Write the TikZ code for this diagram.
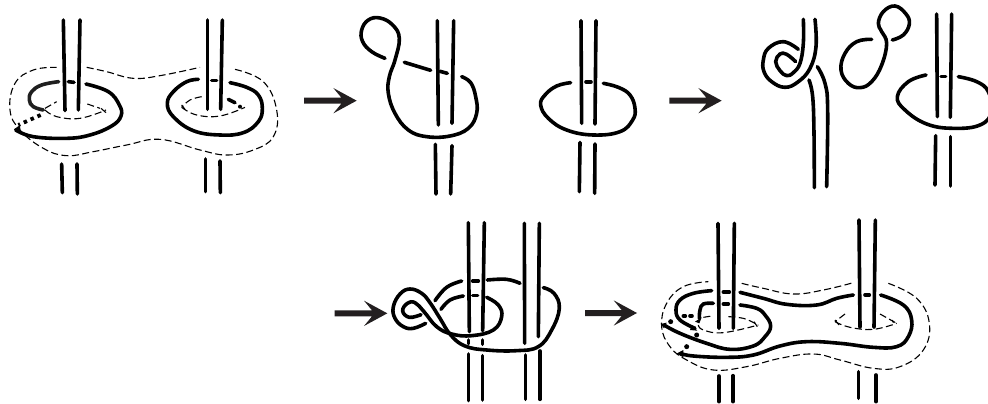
\documentclass[tikz,border=0pt]{standalone}
\definecolor{arrowdark}{HTML}{231F20}
\tikzset{
  strand/.style={draw=black,line width=3.6pt,line cap=round,line join=round},
  softstrand/.style={draw=black!88,line width=3.6pt,line cap=round},
  guide/.style={draw=black,line width=1.1pt,dash pattern=on 7pt off 3.5pt},
  tick/.style={draw=black,line width=1.1pt},
  dots/.style={draw=black,line width=3.8pt,dash pattern=on 3.5pt off 4pt},
  zoomed/.style={x=0.33333pt,y=-0.33333pt},
}
\newcommand{\fatarrow}[3]{% x start, x tip, y in zoom units
  \fill[arrowdark] (#1,#3-9) -- (#2-46,#3-9) -- (#2-70,#3-38) -- (#2,#3) -- (#2-70,#3+38) -- (#2-46,#3+9) -- (#1,#3+9) -- cycle;}
\begin{document}
\begin{tikzpicture}[x=1pt,y=-1pt]
\useasboundingbox (0,0) rectangle (988,404);
\fill[white] (0,0) rectangle (988,404);

% ---------- panel 1
\begin{scope}[shift={(0pt,-10pt)},zoomed]
\foreach \a/\b/\c/\d in {190/30/195/302, 240/30/235/300, 185/462/187/548, 231/462/232/552, 622/30/622/298, 667/30/662/298, 617/447/617/545, 660/453/661/548}
  \draw[strand] (\a,\b) -- (\c,\d);
\draw[guide] plot[smooth,tension=0.7] coordinates {(260,172) (320,185) (400,205) (480,197) (600,172)};
\draw[guide] plot[smooth,tension=0.7] coordinates {(705,178) (790,215) (830,300) (820,380) (760,420) (680,435) (600,420) (480,388) (380,405) (280,425) (200,437) (130,415) (60,360) (30,300) (45,220) (100,180) (170,172)};
\draw[guide] plot[smooth,tension=0.7] coordinates {(135,295) (170,275)};
\draw[guide] plot[smooth,tension=0.7] coordinates {(262,282) (300,295)};
\draw[guide] plot[smooth,tension=0.7] coordinates {(135,300) (170,320) (240,325) (318,300)};
\draw[tick] (303,295) -- (318,308);
\draw[guide] plot[smooth,tension=0.7] coordinates {(605,260) (570,270) (545,292)};
\draw[guide] plot[smooth,tension=0.7] coordinates {(545,292) (590,315) (660,318) (735,292)};
\draw[tick] (545,285) -- (555,298);
\draw[softstrand] plot[smooth,tension=0.7] coordinates {(176,215) (125,225) (95,245) (88,270) (100,290) (130,300)};
\draw[strand] plot[smooth,tension=0.7] coordinates {(47,360) (100,380) (200,385) (270,375) (335,348) (363,318) (358,285) (325,245) (258,222)};
\fill (42,358) -- (60,345) -- (62,368) -- cycle;
\draw[dots] (122,315) -- (55,345);
\draw[strand] (205,215) -- (222,217);
\draw[strand] plot[smooth,tension=0.7] coordinates {(595,208) (560,215) (520,245) (502,280) (520,320) (580,362) (660,375) (730,368) (775,335) (787,295) (775,255) (740,232) (690,218)};
\draw[strand] (635,212) -- (650,212);
\draw[strand] (685,268) -- (705,278);
\fill (720,290) circle (6);
\end{scope}

% ---------- panel 2
\begin{scope}[shift={(300pt,-10pt)},zoomed]
\fatarrow{12}{170}{272}
\foreach \a/\b/\c/\d in {412/32/415/345, 461/32/456/340, 406/403/408/552, 456/407/452/552, 843/32/845/340, 888/32/885/342, 840/397/838/545, 885/402/884/550}
  \draw[strand] (\a,\b) -- (\c,\d);
\draw[strand] plot[smooth,tension=0.7] coordinates {(255,145) (215,125) (188,95) (185,60) (205,30) (240,24) (278,45) (298,85) (285,150) (268,200) (265,250) (285,310) (325,360) (380,380) (450,378) (505,355) (530,310) (527,260) (512,218) (485,200)};
\draw[strand] (313,157) -- (392,181);
\draw[strand] (420,184) -- (442,190);
\draw[strand] plot[smooth,tension=0.7] coordinates {(812,218) (770,228) (735,255) (722,285) (745,325) (800,360) (880,375) (960,365) (998,330) (1005,295) (990,255) (955,232) (910,220)};
\draw[strand] (858,216) -- (873,216);
\end{scope}

% ---------- panel 3
\begin{scope}[shift={(660pt,0pt)},zoomed]
\fatarrow{28}{185}{302}
\foreach \a/\b/\c/\d in {830/42/832/350, 875/42/871/352, 827/407/825/555, 871/410/871/558}
  \draw[strand] (\a,\b) -- (\c,\d);
\draw[strand] plot[smooth,tension=0.7] coordinates {(430,58) (430,130) (420,190) (400,218) (380,227) (360,212) (347,185) (360,162) (380,163) (407,185)};
\draw[strand] plot[smooth,tension=0.7] coordinates {(465,58) (468,140) (450,205) (415,245) (375,262) (335,245) (312,215) (310,180) (325,145) (370,125) (415,148)};
\draw[strand] plot[smooth,tension=0.7] coordinates {(447,240) (458,290) (462,400) (463,563)};
\draw[strand] plot[smooth,tension=0.7] coordinates {(472,200) (495,250) (503,330) (500,560)};
\draw[strand] plot[smooth,tension=0.7] coordinates {(635,118) (590,125) (555,160) (543,210) (565,250) (600,263) (635,245) (665,195) (680,130) (665,95) (655,70) (670,35) (705,18) (738,42) (748,72) (730,105) (697,120)};
\draw[strand] plot[smooth,tension=0.7] coordinates {(798,225) (745,245) (712,290) (735,330) (800,372) (880,385) (960,375) (995,335) (985,275) (950,245) (895,230)};
\draw[strand] (843,229) -- (857,229);
\end{scope}

% ---------- panel 4
\begin{scope}[shift={(330pt,-210pt)},zoomed]
\fatarrow{14}{172}{310}
\foreach \a/\b/\c/\d in {415/38/418/365, 463/38/458/362, 583/40/584/400, 628/40/625/380, 415/432/415/572, 457/437/457/570, 586/435/586/568, 630/423/630/568, 415/390/415/401, 457/390/457/403}
  \draw[strand] (\a,\b) -- (\c,\d);
\draw[strand] plot[smooth,tension=0.7] coordinates {(315,272) (350,232) (395,213)};
\draw[strand] (428,213) -- (445,213);
\draw[strand] plot[smooth,tension=0.7] coordinates {(472,210) (530,208) (570,220)};
\draw[strand] plot[smooth,tension=0.7] coordinates {(640,233) (672,250) (688,295) (665,360) (625,410) (560,422) (470,420) (405,408) (362,375) (330,325) (300,278) (275,250) (240,237) (210,252) (190,290) (195,325) (220,350) (250,355) (287,340)};
\draw[strand] plot[smooth,tension=0.7] coordinates {(333,298) (360,270) (400,258)};
\draw[strand] (428,257) -- (443,257);
\draw[strand] plot[smooth,tension=0.7] coordinates {(470,262) (505,285) (515,320) (490,360) (425,377) (365,372) (320,350) (282,305) (255,278) (232,280) (218,303) (238,322) (273,314)};
\end{scope}

% ---------- panel 5
\begin{scope}[shift={(640pt,-210pt)},zoomed]
\fatarrow{-165}{-9}{309}
\foreach \a/\b/\c/\d in {234/40/237/355, 283/40/280/355, 657/30/660/352, 706/30/702/352, 237/498/237/575, 279/497/279/575, 655/485/655/565, 708/495/708/575}
  \draw[strand] (\a,\b) -- (\c,\d);
\draw[guide] plot[smooth,tension=0.7] coordinates {(305,220) (370,235) (460,252) (550,240) (640,218)};
\draw[guide] plot[smooth,tension=0.7] coordinates {(745,220) (830,265) (868,340) (850,420) (780,470) (700,475) (600,450) (520,432) (420,445) (320,470) (220,480) (140,450) (90,410) (65,350) (80,280) (130,230) (205,215)};
\draw[guide] plot[smooth,tension=0.7] coordinates {(190,322) (215,318)};
\draw[guide] plot[smooth,tension=0.7] coordinates {(265,320) (310,325) (345,340)};
\draw[guide] plot[smooth,tension=0.7] coordinates {(175,345) (190,360) (250,368) (355,345)};
\draw[tick] (342,335) -- (352,350);
\draw[guide] plot[smooth,tension=0.7] coordinates {(615,312) (585,335)};
\draw[guide] plot[smooth,tension=0.7] coordinates {(720,312) (770,340)};
\draw[guide] plot[smooth,tension=0.7] coordinates {(585,335) (630,352) (700,358) (770,340)};
\draw[tick] (585,330) -- (597,345);
\draw[tick] (757,330) -- (760,338);
\draw[strand] plot[smooth,tension=0.7] coordinates {(215,242) (160,250) (120,270) (108,300) (120,330) (165,355)};
\draw[strand] plot[smooth,tension=0.7] coordinates {(72,345) (120,370) (200,400) (270,418) (340,408) (375,380) (392,348) (375,315) (350,295) (300,285)};
\draw[strand] plot[smooth,tension=0.7] coordinates {(120,430) (160,438) (260,442) (340,435) (420,408) (500,395) (600,400) (700,412) (770,410) (805,380) (815,330) (790,285) (722,255)};
\draw[strand] plot[smooth,tension=0.7] coordinates {(640,255) (590,265) (530,285) (440,283) (370,265) (300,247)};
\draw[strand] (250,246) -- (268,246);
\draw[strand] (250,282) -- (265,282);
\draw[strand] (675,255) -- (688,255);
\draw[strand] plot[smooth,tension=0.7] coordinates {(220,280) (190,282) (180,300) (178,325)};
\draw[strand] (130,318) -- (136,318);
\draw[strand] (150,318) -- (156,318);
\fill (92,335) circle (7.5);
\fill (140,410) circle (7.5);
\fill (170,375) circle (7.5);
\fill (165,335) -- (185,322) -- (178,340) -- cycle;
\fill (172,362) -- (155,345) -- (150,360) -- cycle;
\fill (62,342) -- (80,338) -- (72,355) -- cycle;
\fill (110,431) -- (130,420) -- (130,442) -- cycle;
\end{scope}
\end{tikzpicture}
\end{document}
